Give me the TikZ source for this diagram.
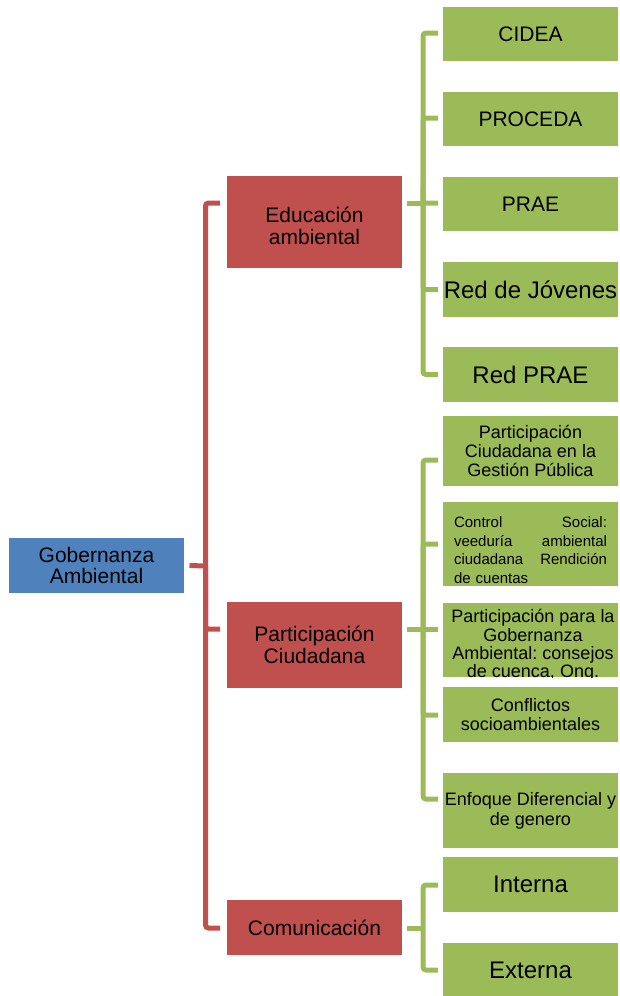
\documentclass[tikz,border=0pt]{standalone}
\usepackage{fontspec}
\setmainfont{Liberation Sans}
\usetikzlibrary{calc}
\frenchspacing
\definecolor{gfill}{HTML}{9BBB59}
\definecolor{rfill}{HTML}{C0504D}
\definecolor{bfill}{HTML}{4F81BD}
\tikzset{
  box/.style={rectangle, inner sep=0pt, outer sep=0pt, minimum width=175pt, align=center, text=black},
  gbox/.style={box, fill=gfill},
  rbox/.style={box, fill=rfill},
  bbox/.style={box, fill=bfill},
  fA/.style={font=\fontsize{21}{21.5}\selectfont},
  fB/.style={font=\fontsize{24}{26}\selectfont},
  fC/.style={font=\fontsize{18}{19}\selectfont},
  rline/.style={draw=rfill, line width=5pt, rounded corners=3pt},
  gline/.style={draw=gfill, line width=5pt, rounded corners=3pt},
  stem/.style={line width=5pt, rounded corners=0pt},
}
\begin{document}
\begin{tikzpicture}[x=1pt,y=-1pt]
\useasboundingbox (0,0) rectangle (619,996);

% main nodes
\node[bbox, fA, minimum height=55pt] (gob) at (96.5,565.5) {Gobernanza\\Ambiental};
\node[rbox, minimum height=92pt] (edu) at (314.5,222) {};
\node[fA, align=center, inner sep=0pt] (eduT) at (314.5,226) {Educación\\ambiental};
\node[rbox, fA, minimum height=86pt] (par) at (314.5,645) {Participación\\Ciudadana};
\node[rbox, fA, minimum height=55pt] (com) at (314.5,927.5) {Comunicación};

% education children
\node[gbox, fA, minimum height=54pt] (cidea) at (530.5,34) {CIDEA};
\node[gbox, fA, minimum height=54pt] (proceda) at (530.5,119) {PROCEDA};
\node[gbox, fA, minimum height=54pt] (prae) at (530.5,204) {PRAE};
\node[gbox, fB, minimum height=55pt] (redj) at (530.5,289.5) {Red de Jóvenes};
\node[gbox, fB, minimum height=55pt] (redp) at (530.5,374.5) {Red PRAE};

% participation children
\node[gbox, fC, minimum height=70pt] (pgp) at (530.5,451) {Participación\\Ciudadana en la\\Gestión Pública};
\node[gbox, minimum height=84pt] (ctrl) at (530.5,544) {};
\node[font=\fontsize{15}{18.7}\selectfont, text width=153pt, align=left, inner sep=0pt] (ctrlT) at (530.5,550) {Control\hfill Social:\\veeduría\hfill ambiental\\ciudadana\hfill Rendición\\de cuentas};
\node[gbox, minimum height=74pt] (pga) at (530.5,640) {};
\begin{scope}
  \clip (pga.south west) rectangle (pga.north east);
  \node[font=\fontsize{18}{18.3}\selectfont, align=center, inner sep=0pt, anchor=north] (pgaT) at (533,609.5) {Participación para la\\Gobernanza\\Ambiental: consejos\\de cuenca, Ong.};
\end{scope}
\node[gbox, font=\fontsize{18}{18.3}\selectfont, minimum height=55pt] (conf) at (530.5,714.5) {Conflictos\\socioambientales};
\node[gbox, font=\fontsize{18}{20}\selectfont, minimum height=75pt] (enf) at (530.5,810.5) {Enfoque Diferencial y\\de genero};

% communication children
\node[gbox, fB, minimum height=55pt] (int) at (530.5,884.5) {Interna};
\node[gbox, fB, minimum height=54pt] (ext) at (530.5,970) {Externa};

% red bracket
\coordinate (rj) at (205.5,566);
\draw[rline, stem] ($(gob.east)+(5.5,0)$) -- (rj);
\draw[rline] (rj) |- ($(edu.west)+(-7,-19)$);
\draw[rline] (rj) |- ($(par.west)+(-7,-16)$);
\draw[rline] (rj) |- ($(com.west)+(-7,0.5)$);

% green bracket: education
\coordinate (gj1) at (423,203);
\draw[gline, stem] ($(edu.east)+(5,-19)$) -- (gj1);
\draw[gline] (gj1) |- ($(cidea.west)+(-5,-1)$);
\draw[gline] (gj1) |- ($(proceda.west)+(-5,-1)$);
\draw[gline] (gj1) |- ($(prae.west)+(-5,-1)$);
\draw[gline] (gj1) |- ($(redj.west)+(-5,0)$);
\draw[gline] (gj1) |- ($(redp.west)+(-5,0)$);

% green bracket: participation
\coordinate (gj2) at (423,629);
\draw[gline, stem] ($(par.east)+(5,-16)$) -- (gj2);
\draw[gline] (gj2) |- ($(pgp.west)+(-5,9)$);
\draw[gline] (gj2) |- ($(ctrl.west)+(-5,0)$);
\draw[gline, stem] (gj2) -- ($(pga.west)+(-5,-11)$);
\draw[gline] (gj2) |- ($(conf.west)+(-5,0.5)$);
\draw[gline] (gj2) |- ($(enf.west)+(-5,-11.5)$);

% green bracket: communication
\coordinate (gj3) at (423,928);
\draw[gline, stem] ($(com.east)+(5,0.5)$) -- (gj3);
\draw[gline] (gj3) |- ($(int.west)+(-5,0.5)$);
\draw[gline] (gj3) |- ($(ext.west)+(-5,0)$);
\end{tikzpicture}
\end{document}
